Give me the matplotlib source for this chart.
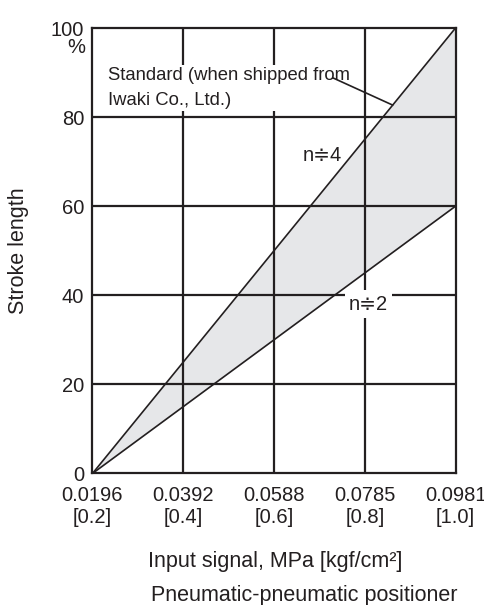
import matplotlib
matplotlib.use("Agg")
import matplotlib.pyplot as plt

plt.rcParams['font.family'] = ['Liberation Sans', 'DejaVu Sans']

# Data
signal_mpa = [0.0196, 0.0981]
stroke_n4 = [0, 100]
stroke_n2 = [0, 60]
x_ticks = [0.0196, 0.0392, 0.0588, 0.0785, 0.0981]
x_tick_kgf = ["0.2", "0.4", "0.6", "0.8", "1.0"]
y_ticks = [0, 20, 40, 60, 80, 100]

INK = '#231f20'
fig = plt.figure(figsize=(4.85, 6.05), dpi=100)
ax = fig.add_axes([0.1907, 0.2174, 0.7485, 0.7363])

ax.fill_between(signal_mpa, stroke_n2, stroke_n4, color='#e6e7e9', zorder=1, lw=0)
ax.set_xlim(x_ticks[0], x_ticks[-1])
ax.set_ylim(0, 100)

for xv in x_ticks[1:-1]:
    ax.axvline(xv, color=INK, lw=1.6, zorder=2)
for yv in y_ticks[1:-1]:
    ax.axhline(yv, color=INK, lw=1.6, zorder=2)

ax.plot(signal_mpa, stroke_n4, color=INK, lw=1.2, zorder=3)
ax.plot(signal_mpa, stroke_n2, color=INK, lw=1.2, zorder=3)

for s in ax.spines.values():
    s.set_linewidth(1.6)
    s.set_color(INK)
    s.set_zorder(4)

ax.set_xticks(x_ticks)
ax.set_xticklabels([f"{v}\n[{k}]" for v, k in zip(x_ticks, x_tick_kgf)], fontsize=14.5,
                   color=INK, linespacing=1.2)
ax.set_yticks(y_ticks)
ax.set_yticklabels([str(v) for v in y_ticks], fontsize=14.5, color=INK)
ax.tick_params(length=0, pad=6)
ax.tick_params(axis='x', pad=9)
for lbl in ax.get_yticklabels():
    lbl.set_verticalalignment('center_baseline')

ax.text(-0.02, 0.957, "%", transform=ax.transAxes, ha='right', va='center', fontsize=14.5,
        color=INK)

fig.text(0.039, 0.585, "Stroke length", rotation=90, ha='center', va='center', fontsize=15.5,
         color=INK)
fig.text(0.3045, 0.0628, "Input signal, MPa [kgf/cm²]", ha='left', va='baseline', fontsize=15.5,
         color=INK)
fig.text(0.312, 0.0068, "Pneumatic-pneumatic positioner", ha='left', va='baseline', fontsize=15.5,
         color=INK)

ax.text(0.0229, 86.5, "Standard (when shipped from\nIwaki Co., Ltd.)", ha='left', va='center',
        fontsize=13.3, color=INK, linespacing=1.65, zorder=5,
        bbox=dict(facecolor='white', edgecolor='none', pad=1))
ax.plot([0.0716, 0.0845], [88.8, 82.7], color=INK, lw=1.2, zorder=6)

ax.text(0.0692, 71.3, "n≑4", ha='center', va='center', fontsize=14.5, color=INK, zorder=5)
ax.text(0.0793, 38.0, "n≑2", ha='center', va='center', fontsize=14.5, color=INK, zorder=5,
        bbox=dict(facecolor='white', edgecolor='none', pad=3))

fig.savefig("out.png", dpi=100)
